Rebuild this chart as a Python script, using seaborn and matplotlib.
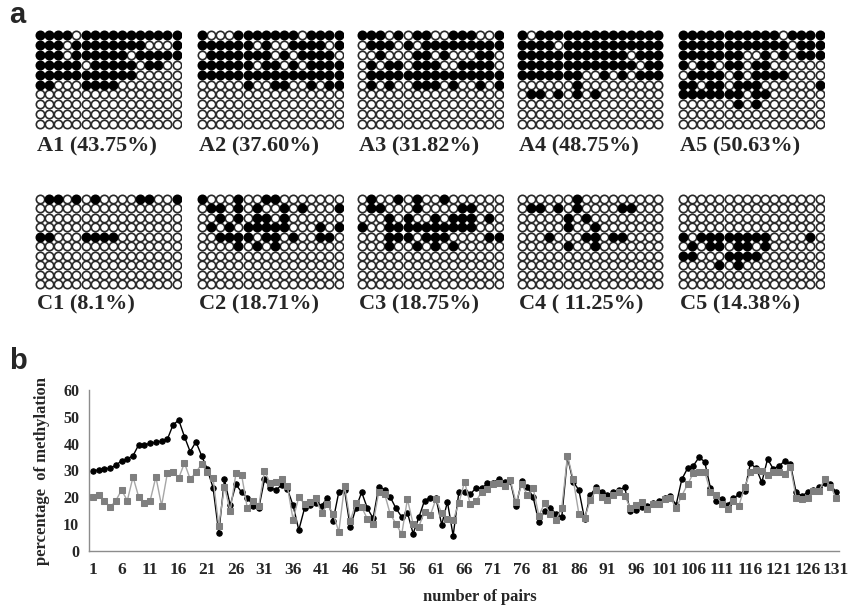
import matplotlib
matplotlib.use("Agg")
import matplotlib.pyplot as plt
import seaborn as sns
import numpy as np
import pandas as pd

# ---------------- data ----------------
grid_labels_top = ["A1 (43.75%)", "A2 (37.60%)", "A3 (31.82%)", "A4 (48.75%)", "A5 (50.63%)"]
grid_labels_bot = ["C1 (8.1%)", "C2 (18.71%)", "C3 (18.75%)", "C4 ( 11.25%)", "C5 (14.38%)"]

Z = "0000000000000000"
A1 = ["1111011111111111", "1110111111110001", "1110111111011111", "1111101111101100",
      "1111111111100000", "1100011110000000", Z, Z, Z, Z]
A2 = ["1000111111101111", "1111110100111101", "0111111101011110", "1111110110101111",
      "1111111111111111", "0000010011001011", Z, Z, Z, Z]
A3 = ["1110101100111001", "0111010111111111", "0010001101000110", "0101101110011110",
      "0111111111111111", "0101001110100101", Z, Z, Z, Z]
A4 = ["1011111111111111", "1111011111111111", "1111111111110111", "1111111111111011",
      "1111111001010111", "0000001000000000", "0110101010000000", Z, Z, Z]
A5 = ["1111111111101111", "1111111111110111", "1111111001010111", "1011011011000000",
      "0111101011110000", "1101101110000001", "1111111011000000", "0000001010000000", Z, Z]
C1 = ["0110101000011001", Z, Z, Z, "1100011110000000", Z, Z, Z, Z, Z]
C2 = ["1000100110000000", "0110101001010001", "0010101101000000", "0101011111000101",
      "0011110110100110", "0000101010000000", Z, Z, Z, Z]
C3 = ["0100101001000000", "0110001000011000", "0001010010111010", "1001111111111000",
      "0001110111000011", "0001001010100000", Z, Z, Z, Z]
C4 = ["0000001000000000", "0110101000011000", "0000010100000000", "0000010010000000",
      "0001000110110000", "0000010010000000", Z, Z, Z, Z]
C5 = [Z, Z, Z, Z, "1011111111000010", "0101101101000000", "1100011110000000",
      "0000101000000000", Z, Z]

pairs = list(range(1, 132))
meth_black = [29.8, 30.3, 30.7, 30.8, 32.0, 33.6, 34.3, 35.5, 39.6, 39.6,
              40.1, 40.5, 41.0, 41.6, 47.0, 48.8, 42.6, 37.0, 40.7, 35.5,
              30.4, 23.6, 6.8, 26.7, 17.0, 24.8, 21.9, 19.9, 16.9, 16.0,
              26.7, 23.6, 22.7, 24.6, 23.1, 17.0, 7.8, 15.9, 17.0, 17.8,
              16.9, 19.9, 11.3, 22.0, 22.7, 8.8, 16.1, 21.9, 15.9, 12.2,
              24.0, 22.7, 20.1, 15.9, 12.7, 14.3, 6.5, 12.5, 18.8, 19.9,
              19.6, 9.8, 18.3, 5.7, 21.9, 22.1, 21.1, 23.6, 23.4, 25.2,
              25.5, 26.8, 25.6, 26.0, 16.8, 26.1, 23.7, 20.0, 10.7, 15.0,
              16.1, 13.8, 12.5, 35.0, 25.8, 22.7, 11.8, 20.9, 23.7, 22.1,
              20.9, 21.9, 22.7, 23.7, 14.9, 15.3, 16.3, 16.9, 17.8, 18.8,
              19.6, 20.6, 17.1, 26.7, 30.8, 31.7, 34.9, 33.3, 23.6, 18.8,
              19.3, 17.1, 19.6, 21.1, 22.4, 32.7, 30.8, 25.6, 34.3, 30.6,
              31.7, 33.5, 32.3, 21.9, 20.5, 21.9, 22.7, 23.7, 25.2, 24.8,
              21.9]
meth_gray = [20.0, 20.9, 18.8, 16.3, 18.8, 22.7, 18.8, 27.6, 20.1, 17.8,
             18.8, 27.6, 16.9, 28.9, 29.6, 27.2, 32.8, 26.8, 29.3, 32.4,
             29.3, 27.1, 9.4, 24.0, 14.9, 28.9, 28.3, 15.9, 18.8, 16.9,
             29.8, 25.2, 25.8, 26.8, 24.1, 11.7, 20.1, 17.5, 18.3, 19.6,
             14.0, 17.5, 13.9, 7.2, 24.3, 11.3, 17.8, 16.4, 11.9, 10.2,
             22.1, 21.4, 13.7, 10.2, 6.2, 19.3, 10.1, 9.1, 14.7, 13.3,
             19.4, 14.0, 12.0, 11.4, 17.8, 25.8, 17.4, 18.6, 22.1, 23.1,
             24.8, 25.2, 24.3, 26.5, 18.1, 24.8, 20.9, 23.4, 13.2, 17.8,
             13.7, 11.7, 15.9, 35.5, 26.7, 13.8, 12.2, 19.0, 22.7, 20.2,
             19.0, 20.9, 22.1, 20.6, 16.1, 17.1, 18.1, 15.7, 17.5, 17.5,
             19.3, 19.9, 15.9, 20.6, 24.8, 28.9, 29.6, 29.6, 22.1, 20.9,
             17.4, 15.7, 18.8, 16.9, 24.0, 29.3, 30.2, 29.8, 28.3, 29.3,
             29.3, 28.7, 31.4, 19.9, 19.4, 19.9, 22.4, 22.4, 26.8, 24.0,
             19.9]
x_ticks = list(range(1, 132, 5))
y_ticks = [0, 10, 20, 30, 40, 50, 60]

# ---------------- figure ----------------
sns.set_theme(style="white")
plt.rcParams['font.family'] = ['Liberation Serif', 'DejaVu Serif']
W, H = 861, 607
fig = plt.figure(figsize=(W / 100, H / 100), dpi=100)
fig.patch.set_facecolor("white")


def px_axes(x0, y0, w, h):
    return fig.add_axes([x0 / W, 1 - (y0 + h) / H, w / W, h / H])


def draw_grid(pattern, cx0, cy0, dx, dy):
    nr, nc = len(pattern), len(pattern[0])
    ax = px_axes(cx0 - dx / 2, cy0 - dy / 2, dx * nc, dy * nr)
    rows, cols, fill = [], [], []
    for r, line in enumerate(pattern):
        for c, ch in enumerate(line):
            rows.append(r)
            cols.append(c)
            fill.append(ch == "1")
    df = pd.DataFrame({"col": cols, "row": rows, "fill": fill})
    sns.scatterplot(data=df[~df["fill"]], x="col", y="row", s=36, color="white",
                    edgecolor="#2a2a2a", linewidth=1.2, ax=ax, legend=False)
    sns.scatterplot(data=df[df["fill"]], x="col", y="row", s=36, color="black",
                    edgecolor="black", linewidth=1.2, ax=ax, legend=False)
    ax.set_xlim(-0.5, nc - 0.5)
    ax.set_ylim(nr - 0.5, -0.5)
    ax.axis("off")
    return ax


top_grids = [A1, A2, A3, A4, A5]
bot_grids = [C1, C2, C3, C4, C5]
x_starts = [40, 202, 362, 522, 683]
dx = 9.1
for g, lab, xs in zip(top_grids, grid_labels_top, x_starts):
    draw_grid(g, xs, 35, dx, 9.9)
    fig.text((xs - 3) / W, 1 - 146 / H, lab, fontsize=16, fontweight="bold",
             ha="left", va="center")
for g, lab, xs in zip(bot_grids, grid_labels_bot, x_starts):
    draw_grid(g, xs, 199, dx, 9.45)
    fig.text((xs - 3) / W, 1 - 304 / H, lab, fontsize=16, fontweight="bold",
             ha="left", va="center")

fig.text(9 / W, 1 - 15 / H, "a", fontsize=21, fontweight="bold",
         family=["Liberation Sans"], ha="left", va="center")
fig.text(9 / W, 1 - 361 / H, "b", fontsize=21, fontweight="bold",
         family=["Liberation Sans"], ha="left", va="center")

# ---------------- panel b ----------------
ax = px_axes(89, 390, 750, 161)
df_b = pd.DataFrame({"pair": pairs, "black": meth_black, "gray": meth_gray})
sns.lineplot(data=df_b, x="pair", y="black", color="black", linewidth=1.0,
             marker="o", markersize=3.9, markeredgecolor="black",
             markerfacecolor="black", ax=ax)
sns.lineplot(data=df_b, x="pair", y="gray", color="#a6a6a6", linewidth=1.0,
             marker="s", markersize=4.2, markeredgecolor="#7f7f7f",
             markerfacecolor="#7f7f7f", ax=ax)
ax.set_xlim(0.3, 131.5)
ax.set_ylim(0, 60)
ax.set_xticks(x_ticks)
ax.set_yticks(y_ticks)
ax.set_xticklabels([str(t) for t in x_ticks], fontsize=12.5, fontweight="bold")
ax.set_yticklabels([str(t) for t in y_ticks], fontsize=11.5, fontweight="bold")
ax.tick_params(axis="both", length=0)
ax.tick_params(axis="x", pad=8)
ax.tick_params(axis="y", pad=7)
ax.set_xlabel("")
ax.set_ylabel("")
for s in ["top", "right"]:
    ax.spines[s].set_visible(False)
for s in ["left", "bottom"]:
    ax.spines[s].set_color("#8c8c8c")
    ax.spines[s].set_linewidth(1.0)
ax.set_facecolor("white")
ax.grid(False)

fig.text(42 / W, 1 - 471 / H, "percentage  of methylation", rotation=90,
         fontsize=12, fontweight="bold", ha="center", va="center")
fig.text(480 / W, 1 - 597 / H, "number of pairs", fontsize=12,
         fontweight="bold", ha="center", va="center")

fig.savefig("out.png", dpi=100, facecolor="white")
